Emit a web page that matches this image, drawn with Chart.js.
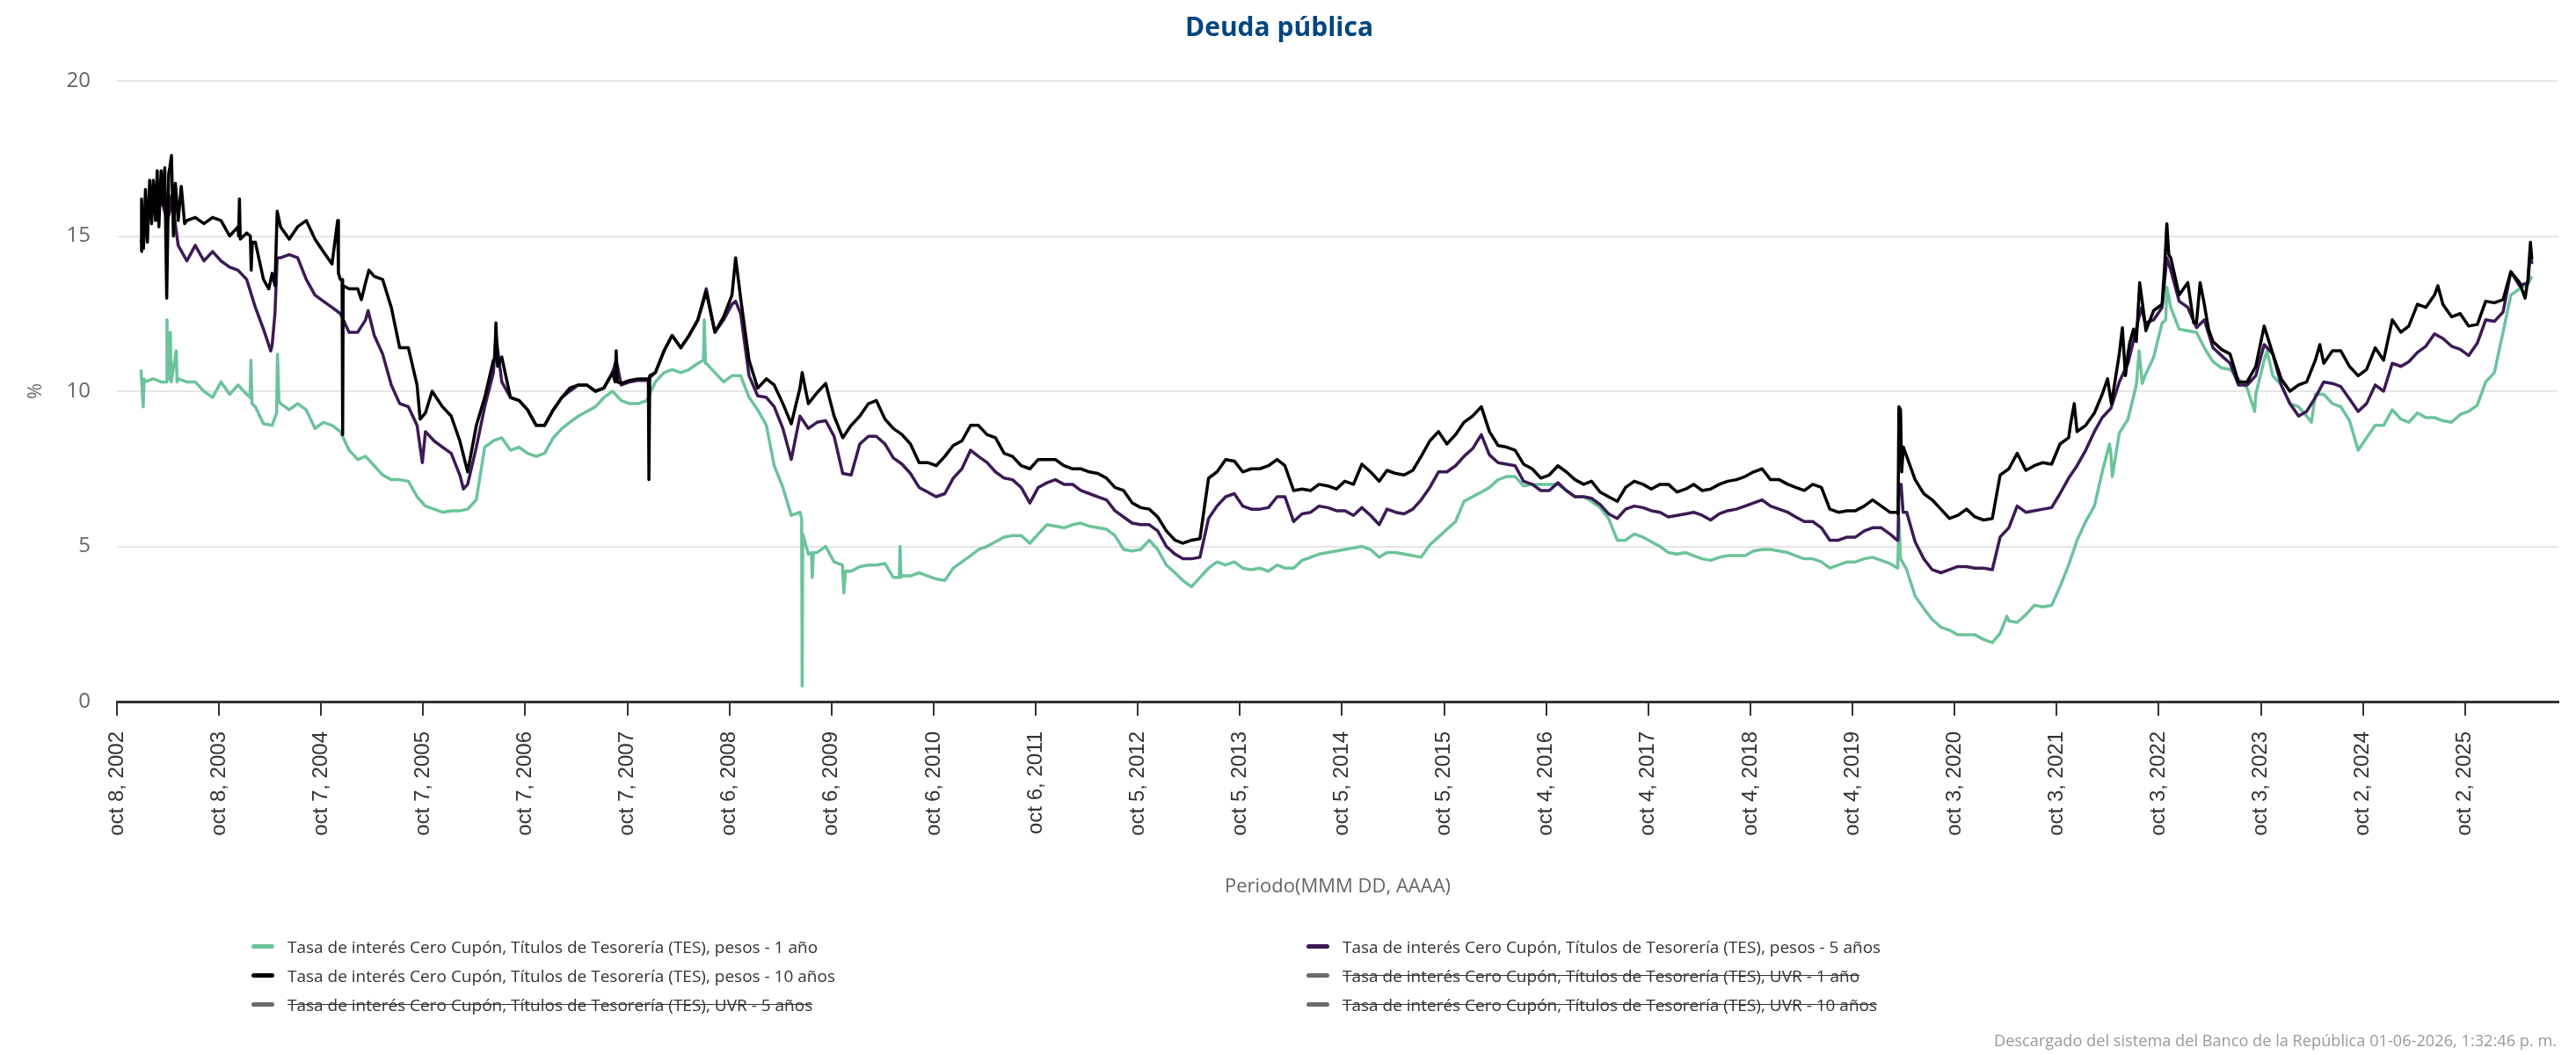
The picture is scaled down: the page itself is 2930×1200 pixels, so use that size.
<!DOCTYPE html>
<html>
<head>
<meta charset="utf-8">
<script src="https://cdn.jsdelivr.net/npm/chart.js@4.4.1/dist/chart.umd.min.js"></script>
<style>
  html, body { margin: 0; padding: 0; background: #ffffff; }
  #wrap { position: relative; width: 2930px; height: 1200px; }
  #chart { position: absolute; left: 0; top: 0; }
  #legend { position: absolute; left: 286px; top: 1060px; display: grid; grid-template-columns: 1200px 1200px; grid-auto-rows: 33px; font-family: 'Open Sans', sans-serif; font-size: 19px; color: #333; }
  .item { display: flex; align-items: center; white-space: nowrap; }
  .sw { width: 26px; height: 5px; border-radius: 3px; margin-right: 15px; }
  .off span { text-decoration: line-through; }
  #footer { position: absolute; right: 22px; top: 1171px; font-family: 'Open Sans', sans-serif; font-size: 18.2px; color: #999; white-space: nowrap; }
</style>
</head>
<body>
<div id="wrap">
  <canvas id="chart" width="2930" height="1200"></canvas>
  <div id="legend"></div>
  <div id="footer">Descargado del sistema del Banco de la República 01-06-2026, 1:32:46 p. m.</div>
</div>
<script>
// ---------- DATA ----------
const chartTitle = 'Deuda pública';
const seriesNames = [
  'Tasa de interés Cero Cupón, Títulos de Tesorería (TES), pesos - 1 año',
  'Tasa de interés Cero Cupón, Títulos de Tesorería (TES), pesos - 5 años',
  'Tasa de interés Cero Cupón, Títulos de Tesorería (TES), pesos - 10 años',
  'Tasa de interés Cero Cupón, Títulos de Tesorería (TES), UVR - 1 año',
  'Tasa de interés Cero Cupón, Títulos de Tesorería (TES), UVR - 5 años',
  'Tasa de interés Cero Cupón, Títulos de Tesorería (TES), UVR - 10 años'
];
const seriesHidden = [false, false, false, true, true, true];

const tickDates = ['2002-10-08','2003-10-08','2004-10-07','2005-10-07','2006-10-07','2007-10-07','2008-10-06','2009-10-06','2010-10-06','2011-10-06','2012-10-05','2013-10-05','2014-10-05','2015-10-05','2016-10-04','2017-10-04','2018-10-04','2019-10-04','2020-10-03','2021-10-03','2022-10-03','2023-10-03','2024-10-02','2025-10-02'];
const tickLabels = ['oct 8, 2002','oct 8, 2003','oct 7, 2004','oct 7, 2005','oct 7, 2006','oct 7, 2007','oct 6, 2008','oct 6, 2009','oct 6, 2010','oct 6, 2011','oct 5, 2012','oct 5, 2013','oct 5, 2014','oct 5, 2015','oct 4, 2016','oct 4, 2017','oct 4, 2018','oct 4, 2019','oct 3, 2020','oct 3, 2021','oct 3, 2022','oct 3, 2023','oct 2, 2024','oct 2, 2025'];
const axisStart = '2002-10-08';
const axisEnd = '2026-09-01';

// monthly observations (mid-month)
const months = [
'2003-01','2003-02','2003-03','2003-04','2003-05','2003-06','2003-07','2003-08','2003-09','2003-10','2003-11','2003-12',
'2004-01','2004-02','2004-03','2004-04','2004-05','2004-06','2004-07','2004-08','2004-09','2004-10','2004-11','2004-12',
'2005-01','2005-02','2005-03','2005-04','2005-05','2005-06','2005-07','2005-08','2005-09','2005-10','2005-11','2005-12',
'2006-01','2006-02','2006-03','2006-04','2006-05','2006-06','2006-07','2006-08','2006-09','2006-10','2006-11','2006-12',
'2007-01','2007-02','2007-03','2007-04','2007-05','2007-06','2007-07','2007-08','2007-09','2007-10','2007-11','2007-12',
'2008-01','2008-02','2008-03','2008-04','2008-05','2008-06','2008-07','2008-08','2008-09','2008-10','2008-11','2008-12',
'2009-01','2009-02','2009-03','2009-04','2009-05','2009-06','2009-07','2009-08','2009-09','2009-10','2009-11','2009-12',
'2010-01','2010-02','2010-03','2010-04','2010-05','2010-06','2010-07','2010-08','2010-09','2010-10','2010-11','2010-12',
'2011-01','2011-02','2011-03','2011-04','2011-05','2011-06','2011-07','2011-08','2011-09','2011-10','2011-11','2011-12',
'2012-01','2012-02','2012-03','2012-04','2012-05','2012-06','2012-07','2012-08','2012-09','2012-10','2012-11','2012-12',
'2013-01','2013-02','2013-03','2013-04','2013-05','2013-06','2013-07','2013-08','2013-09','2013-10','2013-11','2013-12',
'2014-01','2014-02','2014-03','2014-04','2014-05','2014-06','2014-07','2014-08','2014-09','2014-10','2014-11','2014-12',
'2015-01','2015-02','2015-03','2015-04','2015-05','2015-06','2015-07','2015-08','2015-09','2015-10','2015-11','2015-12',
'2016-01','2016-02','2016-03','2016-04','2016-05','2016-06','2016-07','2016-08','2016-09','2016-10','2016-11','2016-12',
'2017-01','2017-02','2017-03','2017-04','2017-05','2017-06','2017-07','2017-08','2017-09','2017-10','2017-11','2017-12',
'2018-01','2018-02','2018-03','2018-04','2018-05','2018-06','2018-07','2018-08','2018-09','2018-10','2018-11','2018-12',
'2019-01','2019-02','2019-03','2019-04','2019-05','2019-06','2019-07','2019-08','2019-09','2019-10','2019-11','2019-12',
'2020-01','2020-02','2020-03','2020-04','2020-05','2020-06','2020-07','2020-08','2020-09','2020-10','2020-11','2020-12',
'2021-01','2021-02','2021-03','2021-04','2021-05','2021-06','2021-07','2021-08','2021-09','2021-10','2021-11','2021-12',
'2022-01','2022-02','2022-03','2022-04','2022-05','2022-06','2022-07','2022-08','2022-09','2022-10','2022-11','2022-12',
'2023-01','2023-02','2023-03','2023-04','2023-05','2023-06','2023-07','2023-08','2023-09','2023-10','2023-11','2023-12',
'2024-01','2024-02','2024-03','2024-04','2024-05','2024-06','2024-07','2024-08','2024-09','2024-10','2024-11','2024-12',
'2025-01','2025-02','2025-03','2025-04','2025-05','2025-06','2025-07','2025-08','2025-09','2025-10','2025-11','2025-12',
'2026-01','2026-02','2026-03','2026-04','2026-05'
];

const tes1y = [
10.3,10.4,10.3,10.4,10.4,10.3,10.3,10.0,9.8,10.3,9.9,10.2,
9.9,9.5,8.95,8.9,9.6,9.4,9.6,9.4,8.8,9.0,8.9,8.7,
8.1,7.8,7.9,7.6,7.3,7.15,7.15,7.1,6.6,6.3,6.2,6.1,
6.15,6.15,6.2,6.5,8.2,8.4,8.5,8.1,8.2,8.0,7.9,8.0,
8.5,8.8,9.0,9.2,9.35,9.5,9.8,10.0,9.7,9.6,9.6,9.7,
10.3,10.6,10.7,10.6,10.7,10.9,10.9,10.6,10.3,10.5,10.5,9.8,
9.4,8.9,7.6,6.9,6.0,6.1,4.75,4.8,5.0,4.5,4.4,4.2,
4.35,4.4,4.4,4.45,4.0,4.05,4.05,4.15,4.05,3.95,3.9,4.3,
4.5,4.7,4.9,5.0,5.15,5.3,5.35,5.35,5.1,5.4,5.7,5.65,
5.6,5.7,5.75,5.65,5.6,5.55,5.35,4.9,4.85,4.9,5.2,4.9,
4.4,4.15,3.9,3.7,4.0,4.3,4.5,4.4,4.5,4.3,4.25,4.3,
4.2,4.4,4.3,4.3,4.55,4.65,4.75,4.8,4.85,4.9,4.95,5.0,
4.9,4.65,4.8,4.8,4.75,4.7,4.65,5.05,5.3,5.55,5.8,6.45,
6.6,6.75,6.9,7.15,7.25,7.25,6.95,7.0,7.0,7.0,7.0,6.8,
6.6,6.6,6.45,6.25,5.9,5.2,5.2,5.4,5.3,5.15,5.0,4.8,
4.75,4.8,4.7,4.6,4.55,4.65,4.7,4.7,4.7,4.85,4.9,4.9,
4.85,4.8,4.7,4.6,4.6,4.5,4.3,4.4,4.5,4.5,4.6,4.65,
4.55,4.45,4.3,4.25,3.4,3.0,2.65,2.4,2.3,2.15,2.15,2.15,
2.0,1.9,2.2,2.6,2.55,2.8,3.1,3.05,3.1,3.7,4.4,5.2,
5.8,6.3,7.4,8.0,8.65,9.1,10.2,10.5,11.1,12.2,12.7,12.0,
11.95,11.9,11.4,10.95,10.75,10.7,10.4,10.1,9.9,11.0,10.5,10.2,
9.6,9.5,9.2,9.9,9.9,9.6,9.5,9.05,8.1,8.5,8.9,8.9,
9.4,9.1,9.0,9.3,9.15,9.15,9.05,9.0,9.25,9.35,9.55,10.3,
10.6,11.9,13.1,13.3,13.45
];

const tes5y = [
15.3,16.0,16.2,15.8,14.7,14.2,14.7,14.2,14.5,14.2,14.0,13.9,
13.6,12.7,12.0,11.5,14.3,14.4,14.3,13.6,13.1,12.9,12.7,12.5,
11.9,11.9,12.3,11.8,11.2,10.2,9.6,9.5,8.9,8.7,8.4,8.2,
8.0,7.3,7.0,8.2,9.5,10.6,10.3,9.8,9.7,9.4,8.9,8.9,
9.4,9.8,10.0,10.2,10.2,10.0,10.1,10.6,10.2,10.3,10.35,10.35,
10.6,11.3,11.8,11.4,11.8,12.3,13.3,11.9,12.3,12.8,12.5,10.5,
9.85,9.8,9.5,8.8,7.8,9.2,8.8,9.0,9.05,8.55,7.35,7.3,
8.3,8.55,8.55,8.3,7.85,7.65,7.35,6.9,6.75,6.6,6.7,7.2,
7.5,8.1,7.9,7.7,7.4,7.2,7.15,6.9,6.4,6.9,7.05,7.15,
7.0,7.0,6.8,6.7,6.6,6.5,6.15,5.95,5.75,5.7,5.7,5.5,
5.0,4.75,4.6,4.6,4.65,5.9,6.3,6.6,6.7,6.3,6.2,6.2,
6.25,6.6,6.6,5.8,6.05,6.1,6.3,6.25,6.15,6.15,6.0,6.25,
6.0,5.7,6.2,6.1,6.05,6.2,6.5,6.9,7.4,7.4,7.6,7.9,
8.15,8.6,7.95,7.7,7.65,7.6,7.1,7.0,6.8,6.8,7.05,6.8,
6.6,6.6,6.55,6.35,6.05,5.9,6.2,6.3,6.25,6.15,6.1,5.95,
6.0,6.05,6.1,6.0,5.85,6.05,6.15,6.2,6.3,6.4,6.5,6.3,
6.2,6.1,5.95,5.8,5.8,5.6,5.2,5.2,5.3,5.3,5.5,5.6,
5.6,5.4,5.2,6.1,5.15,4.6,4.25,4.15,4.25,4.35,4.35,4.3,
4.3,4.25,5.3,5.6,6.3,6.1,6.15,6.2,6.25,6.7,7.2,7.6,
8.1,8.7,9.15,9.45,10.3,10.9,12.0,12.2,12.3,12.7,13.9,12.9,
12.7,12.05,12.3,11.4,11.15,10.9,10.2,10.2,10.5,11.5,11.2,10.2,
9.6,9.2,9.35,9.8,10.3,10.25,10.15,9.75,9.35,9.6,10.2,10.0,
10.9,10.8,10.95,11.25,11.45,11.85,11.7,11.45,11.35,11.15,11.55,12.3,
12.25,12.55,13.85,13.4,13.5
];

const tes10y = [
15.5,16.8,17.1,17.2,15.5,15.5,15.6,15.4,15.6,15.5,15.0,15.3,
15.1,14.8,13.6,13.8,15.3,14.9,15.3,15.5,14.9,14.5,14.1,13.6,
13.3,13.3,13.5,13.7,13.6,12.7,11.4,11.4,10.2,9.3,9.9,9.5,
9.2,8.4,7.4,8.9,9.8,11.0,11.1,9.8,9.7,9.4,8.9,8.9,
9.4,9.8,10.1,10.2,10.2,10.0,10.1,10.6,10.25,10.35,10.4,10.4,
10.6,11.3,11.8,11.4,11.8,12.3,13.2,11.9,12.4,13.1,13.0,11.0,
10.1,10.4,10.2,9.6,8.95,10.1,9.6,9.95,10.25,9.2,8.5,8.9,
9.2,9.6,9.7,9.1,8.8,8.6,8.3,7.7,7.7,7.6,7.9,8.25,
8.4,8.9,8.9,8.6,8.5,8.0,7.9,7.6,7.5,7.8,7.8,7.8,
7.6,7.5,7.5,7.4,7.35,7.2,6.9,6.8,6.4,6.25,6.2,5.95,
5.5,5.2,5.1,5.2,5.25,7.2,7.4,7.8,7.75,7.4,7.5,7.5,
7.6,7.8,7.6,6.8,6.85,6.8,7.0,6.95,6.85,7.1,7.0,7.65,
7.4,7.1,7.45,7.35,7.3,7.45,7.9,8.4,8.7,8.3,8.6,9.0,
9.2,9.5,8.7,8.25,8.2,8.1,7.65,7.5,7.2,7.3,7.6,7.4,
7.15,7.0,7.1,6.75,6.6,6.45,6.9,7.1,7.0,6.85,7.0,7.0,
6.75,6.85,7.0,6.8,6.85,7.0,7.1,7.15,7.25,7.4,7.5,7.15,
7.15,7.0,6.9,6.8,7.0,6.9,6.2,6.1,6.15,6.15,6.3,6.5,
6.3,6.1,6.05,7.9,7.15,6.7,6.5,6.2,5.9,6.0,6.2,5.95,
5.85,5.9,7.3,7.5,8.0,7.45,7.6,7.7,7.65,8.3,8.5,8.7,
8.9,9.3,9.9,9.7,11.2,11.2,11.6,12.2,12.6,12.8,14.3,13.1,
13.5,12.2,12.8,11.6,11.35,11.2,10.3,10.3,10.8,12.1,11.2,10.4,
10.0,10.2,10.3,11.0,10.9,11.3,11.3,10.8,10.5,10.7,11.4,11.0,
12.3,11.9,12.1,12.8,12.7,13.1,12.8,12.4,12.5,12.1,12.15,12.9,
12.85,12.95,13.85,13.5,13.6
];

// single-day observations (first / last day, spikes and jumps)
const extra1yDates = ['2003-01-02','2003-01-10','2003-01-13','2003-04-03','2003-04-05','2003-04-08','2003-04-17','2003-04-20','2003-05-08','2003-05-11','2004-01-27','2004-01-30','2004-02-03','2004-05-01','2004-05-04','2004-05-09','2008-07-05','2008-07-08','2008-07-12','2009-06-21','2009-06-23','2009-06-25','2009-07-26','2009-07-29','2009-08-02','2009-11-14','2009-11-19','2009-11-25','2010-06-05','2010-06-08','2010-06-11','2020-03-14','2020-03-18','2020-03-24','2021-04-08','2022-04-10','2022-04-20','2022-07-25','2022-08-05','2022-10-28','2022-11-01','2023-09-11','2023-10-25','2024-04-01','2026-05-29'];
const extra1yVals  = [10.7,9.5,10.4,10.3,12.3,10.4,11.9,10.3,11.3,10.3,9.8,11.0,9.6,9.3,11.2,9.7,11.0,12.3,10.9,5.9,0.5,5.4,4.8,4.0,4.8,4.4,3.5,4.2,4.0,5.0,4.0,4.3,5.9,4.6,2.75,8.3,7.25,11.3,10.25,12.3,13.35,9.35,11.3,9.0,13.7];

const extra5yDates = ['2003-01-02','2003-04-06','2003-04-21','2004-04-10','2004-04-25','2004-05-03','2005-03-24','2005-10-04','2006-02-28','2006-06-24','2007-08-28','2008-10-28','2020-03-12','2020-03-18','2020-03-26','2020-04-02','2022-07-22','2022-08-03','2022-11-01','2026-05-24','2026-05-29'];
const extra5yVals  = [14.8,15.5,16.3,11.3,12.5,14.3,12.6,7.7,6.85,11.8,11.0,12.9,5.2,7.0,7.0,6.1,12.3,12.7,14.3,14.5,14.1];

const extra10yDates = ['2003-01-02','2003-01-04','2003-01-11','2003-01-18','2003-01-25','2003-02-02','2003-02-09','2003-02-23','2003-03-01','2003-03-07','2003-03-21','2003-03-28','2003-04-04','2003-04-11','2003-04-21','2003-04-28','2003-05-05','2003-05-26','2003-06-07','2003-12-17','2003-12-20','2003-12-23','2004-01-28','2004-01-31','2004-02-04','2004-04-03','2004-04-25','2004-05-03','2004-12-05','2004-12-08','2004-12-21','2004-12-23','2004-12-25','2005-02-28','2005-03-27','2005-09-26','2005-11-08','2006-06-20','2006-06-24','2006-06-30','2007-08-24','2007-08-28','2007-09-01','2007-12-21','2007-12-23','2007-12-26','2008-10-28','2009-06-23','2020-03-12','2020-03-18','2020-03-24','2020-03-28','2020-04-03','2021-11-22','2021-12-05','2022-04-03','2022-04-17','2022-05-26','2022-06-06','2022-06-21','2022-07-05','2022-07-27','2022-08-18','2022-10-25','2022-11-01','2022-11-08','2023-02-05','2023-02-28','2023-03-30','2024-05-01','2025-06-27','2026-05-05','2026-05-24','2026-05-29'];
const extra10yVals  = [14.5,16.2,14.6,16.5,14.8,16.8,15.4,15.5,17.1,15.3,16.0,17.2,13.0,17.0,17.6,15.0,16.7,16.6,15.4,15.0,16.2,14.9,15.0,13.9,14.8,13.3,13.4,15.8,15.5,13.8,13.6,8.6,13.4,12.95,13.9,9.1,10.0,11.0,12.2,10.8,10.3,11.3,10.3,10.4,7.15,10.5,14.3,10.6,6.1,9.5,9.4,7.4,8.2,8.95,9.6,10.4,9.6,12.05,10.5,11.55,12.0,13.5,11.95,14.15,15.4,14.4,12.2,13.5,12.0,11.5,13.4,13.0,14.8,14.25];

// ---------- BUILD ----------
function toTime(s) {
  const p = s.split('-').map(Number);
  return Date.UTC(p[0], p[1] - 1, p.length > 2 ? p[2] : 15);
}
function buildSeries(mDates, mVals, xDates, xVals) {
  const pts = mDates.map((d, i) => ({ x: toTime(d), y: mVals[i] }));
  xDates.forEach((d, i) => pts.push({ x: toTime(d), y: xVals[i] }));
  pts.sort((a, b) => a.x - b.x);
  return pts;
}

const colors = ['#6cc39b', '#3b1a55', '#000000', '#6b6b6b', '#6b6b6b', '#6b6b6b'];
const seriesData = [
  buildSeries(months, tes1y, extra1yDates, extra1yVals),
  buildSeries(months, tes5y, extra5yDates, extra5yVals),
  buildSeries(months, tes10y, extra10yDates, extra10yVals),
  [], [], []
];
const drawOrder = [2, 1, 0, 3, 4, 5];

const datasets = seriesNames.map((name, i) => ({
  label: name,
  data: seriesData[i],
  borderColor: colors[i],
  backgroundColor: colors[i],
  borderWidth: 3.5,
  borderJoinStyle: 'round',
  pointRadius: 0,
  tension: 0,
  fill: false,
  hidden: seriesHidden[i],
  order: drawOrder[i]
}));

const chart = new Chart(document.getElementById('chart'), {
  type: 'line',
  data: { datasets },
  options: {
    responsive: false,
    animation: false,
    events: [],
    layout: { padding: { top: 0, left: 0, right: 20, bottom: 177 } },
    plugins: {
      legend: { display: false },
      tooltip: { enabled: false },
      title: {
        display: true, text: chartTitle, color: '#00467f',
        font: { family: 'Open Sans', size: 30, weight: 'bold' },
        padding: { top: 14, bottom: 42 }
      }
    },
    scales: {
      x: {
        type: 'linear',
        min: toTime(axisStart),
        max: toTime(axisEnd),
        afterBuildTicks: (s) => { s.ticks = tickDates.map(d => ({ value: toTime(d) })); },
        afterFit: (s) => { s.height = 225; },
        ticks: {
          autoSkip: false, minRotation: 90, maxRotation: 90,
          color: '#333', padding: 18,
          font: { family: 'Liberation Sans', size: 24 },
          callback: (v, i) => tickLabels[i]
        },
        grid: { drawOnChartArea: false, drawTicks: true, tickLength: 16, color: '#333', lineWidth: 2 },
        border: { display: true, color: '#333', width: 3 },
        title: {
          display: true, text: 'Periodo(MMM DD, AAAA)', color: '#666',
          font: { family: 'Open Sans', size: 22 }, padding: { top: 4, bottom: 1 }
        }
      },
      y: {
        min: 0, max: 20,
        afterFit: (s) => { s.width = 133; },
        ticks: { stepSize: 5, color: '#666', padding: 30, font: { family: 'Open Sans', size: 24 } },
        grid: { color: '#e6e6e6', lineWidth: 2, drawTicks: false },
        border: { display: false },
        title: {
          display: true, text: '%', color: '#666',
          font: { family: 'Open Sans', size: 22 }, padding: { top: 28, bottom: 0 }
        }
      }
    }
  }
});

// ---------- HTML LEGEND (from chart datasets) ----------
const legendEl = document.getElementById('legend');
chart.data.datasets.forEach((ds) => {
  const item = document.createElement('div');
  item.className = 'item' + (ds.hidden ? ' off' : '');
  const sw = document.createElement('div');
  sw.className = 'sw';
  sw.style.background = ds.hidden ? '#6b6b6b' : ds.borderColor;
  const tx = document.createElement('span');
  tx.textContent = ds.label;
  item.appendChild(sw);
  item.appendChild(tx);
  legendEl.appendChild(item);
});
</script>
</body>
</html>
